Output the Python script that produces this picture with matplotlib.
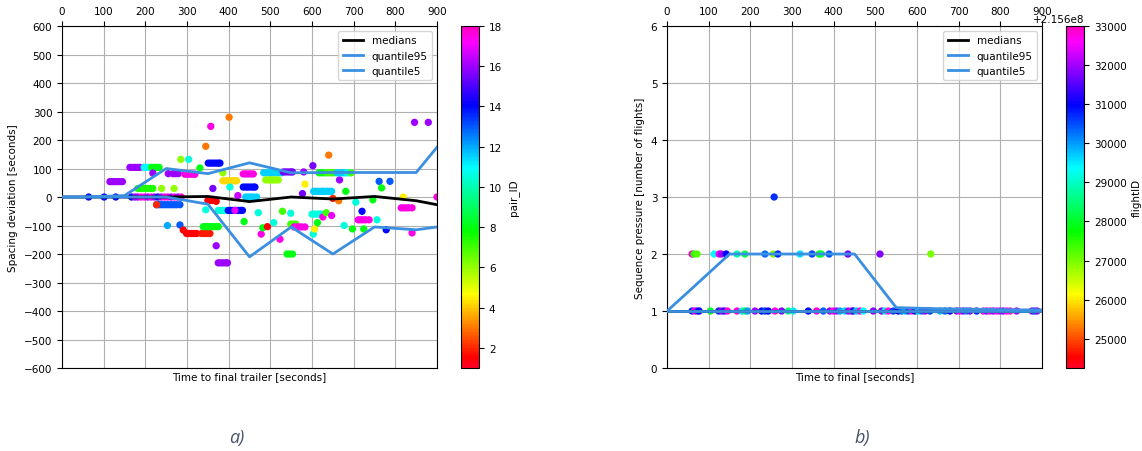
import numpy as np
import matplotlib.pyplot as plt

# ---- panel a) : spacing deviation vs time to final trailer ----
# line summaries
grid_t = [0, 50, 150, 250, 350, 450, 550, 650, 750, 850, 900]
a_medians = [0, 0, 0, 0, 2, -16, 0, -7, 2, -13, -27]
a_q95 = [0, 0, 5, 100, 82, 120, 85, 86, 86, 86, 175]
a_q5 = [0, 0, 0, 0, -25, -210, -105, -200, -105, -115, -105]

# scatter points (time, deviation, pair_ID)
a_x = [64, 101, 129, 167, 175, 182, 190, 198, 206, 214, 222, 230, 238, 246, 254, 262, 270, 278, 286,
       115, 121, 127, 133, 139, 145,
       163, 169, 175, 181, 187,
       197, 203, 209, 215, 221, 227, 233,
       182, 188, 194, 200, 206, 212, 218,
       239, 269, 218, 255, 267, 273, 279,
       295, 301, 307, 313, 319,
       285, 304, 331, 345, 357,
       351, 357, 363, 369, 375, 379,
       401, 435, 441, 447, 453, 459,
       386, 392, 398, 404, 410, 416, 419,
       386, 362, 403, 422,
       227, 233, 239, 245, 251, 257, 263, 269, 275, 283, 227,
       253, 283, 291, 299, 305, 311, 317, 323,
       335, 341, 347, 355,
       339, 345, 351, 357, 363, 369, 375,
       350, 356, 362, 370, 345, 370,
       375, 381, 387, 393, 397,
       375, 381, 387, 393,
       399, 405, 411, 417, 423, 429, 433, 415,
       437, 435, 441, 447, 453, 459, 463,
       441, 447, 453, 459, 467,
       471, 478, 482, 493,
       484, 490, 496, 502, 508, 514, 520, 527,
       489, 495, 501, 507, 513, 519,
       508, 531, 537, 543, 549, 553, 523, 529, 549,
       540, 546, 553, 549, 555, 561,
       557, 563, 569, 575, 583,
       577, 583, 580, 602,
       604, 610, 616, 622, 626,
       600, 606, 612, 618, 621, 603, 606, 613,
       617, 623, 629, 635, 641, 647, 651,
       626, 634, 640, 630, 636, 642, 647, 647, 650, 664, 666,
       660, 666, 672, 678, 684, 690, 694,
       681, 677, 697, 705, 720,
       711, 717, 723, 729, 737, 724, 746, 756, 761, 767, 778, 787,
       819, 814, 820, 826, 832, 840, 840, 846, 879, 900]
a_y = [0, 0, 0, 0, 0, 0, 0, 0, 0, 0, 0, 0, 0, 0, 0, 0, 0, 0, 0,
       54, 54, 54, 54, 54, 54,
       104, 104, 104, 104, 104,
       104, 104, 104, 104, 104, 104, 104,
       30, 30, 30, 30, 30, 30, 30,
       30, 30, 84, 82, 82, 82, 82,
       80, 80, 80, 80, 80,
       132, 132, 102, 178, 248,
       119, 119, 119, 119, 119, 119,
       280, 81, 81, 81, 81, 81,
       57, 57, 57, 57, 57, 57, 57,
       85, 30, 35, 5,
       -27, -27, -27, -27, -27, -27, -27, -27, -27, -27, -27,
       -100, -98, -116, -128, -128, -128, -128, -128,
       -128, -128, -128, -128,
       -104, -104, -104, -104, -104, -104, -104,
       -12, -12, -12, -15, -45, -171,
       -231, -231, -231, -231, -231,
       -47, -47, -47, -47,
       -47, -47, -47, -47, -47, -47, -47, -47,
       -86, 35, 35, 35, 35, 35, 35,
       0, 0, 0, 0, 0,
       -55, -130, -108, -104,
       85, 85, 85, 85, 85, 85, 85, 85,
       60, 60, 60, 60, 60, 60,
       -90, 88, 88, 88, 88, 88, -148, -50, -57,
       -200, -200, -200, -95, -95, -95,
       -105, -105, -105, -105, -105,
       12, 45, 88, 110,
       20, 20, 20, 20, 20,
       -60, -60, -60, -60, -60, -130, -112, -90,
       85, 85, 85, 85, 85, 85, 85,
       -70, -55, 147, 20, 20, 20, 20, -65, -5, -13, 60,
       85, 85, 85, 85, 85, 85, 85,
       20, -100, -112, -18, -50,
       -80, -80, -80, -80, -80, -112, -10, -80, 55, 32, -115, 55,
       0, -38, -38, -38, -38, -38, -126, 262, 262, 0]
a_id = [14, 14, 14, 14, 16, 16, 17.5, 17.5, 16, 17.5, 16, 14, 16, 17.5, 17.5, 16, 17.5, 16, 17.5,
        16, 16, 16, 16, 16, 16,
        16, 16, 16, 16, 16,
        11, 11, 11, 8, 8, 8, 8,
        7.5, 7.5, 7.5, 7.5, 7.5, 7.5, 7.5,
        6, 6, 16, 16, 16, 16, 16,
        17.5, 17.5, 17.5, 17.5, 17.5,
        6, 10.5, 8, 3, 17.5,
        14, 14, 14, 14, 14, 14,
        3, 17.5, 17.5, 17.5, 17.5, 17.5,
        4.2, 4.2, 4.2, 4.2, 4.2, 4.2, 4.2,
        6, 15.5, 10.5, 16.5,
        13, 13, 13, 13, 13, 13, 13, 13, 13, 13, 2,
        12, 13, 1.5, 1.5, 1.5, 1.5, 1.5, 1.5,
        1.8, 1.8, 1.8, 1.8,
        8, 8, 8, 8, 8, 8, 8,
        1.5, 1.5, 1.5, 1.5, 10.5, 16,
        16, 16, 16, 16, 16,
        10.5, 10.5, 10.5, 10.5,
        14, 14, 14, 14, 14, 14, 14, 17,
        8, 14, 14, 14, 14, 14, 14,
        11.5, 11.5, 11.5, 11.5, 11.5,
        10.5, 17.5, 8, 1.5,
        11.5, 11.5, 11.5, 11.5, 11.5, 11.5, 11.5, 11.5,
        6, 6, 6, 6, 6, 6,
        10.5, 15.5, 15.5, 15.5, 15.5, 15.5, 17.5, 7, 10.5,
        8, 8, 8, 7, 7, 7,
        17.5, 17.5, 17.5, 17.5, 17.5,
        15.5, 4.5, 16, 15.5,
        11.5, 11.5, 11.5, 11.5, 11.5,
        10.5, 10.5, 10.5, 10.5, 10.5, 10.5, 4.5, 8,
        8, 8, 8, 7, 7, 7, 7,
        17.5, 7, 3, 11.5, 11.5, 11.5, 11.5, 17, 2, 3, 16,
        11.5, 11.5, 11.5, 11.5, 10.5, 10.5, 7,
        8, 10.5, 8, 10.5, 14,
        17.5, 17.5, 17.5, 17.5, 17.5, 8, 8, 10.5, 13, 8, 14, 13,
        4.5, 17.5, 17.5, 17.5, 17.5, 17.5, 17.5, 16, 16, 17.5]

# ---- panel b) : sequence pressure vs time to final ----
b_medians = [1, 1, 1, 1, 1, 1, 1, 1, 1, 1, 1]
b_q95 = [1, 1.33, 2, 2, 2, 2, 1.06, 1.04, 1.03, 1.02, 1.02]
b_q5 = [1, 1, 1, 1, 1, 1, 1, 1, 1, 1, 1]

b_x = [60, 65, 72, 113, 125, 130, 142, 168, 187, 235, 255, 266, 319, 348, 365, 370, 389, 434, 511, 633,
       257,
       60, 66, 72, 77, 104, 124, 131, 138, 145, 168, 180, 187, 193, 211, 227, 235, 243, 259, 275,
       291, 303, 339, 359, 375, 391, 399, 407, 415, 427, 435, 443, 447, 455, 463, 471, 495, 515, 523,
       531, 543, 555, 563, 571, 579, 587, 595, 603, 611, 619, 631, 655, 667, 679, 695, 703, 711, 719,
       727, 743, 759, 767, 775, 783, 791, 799, 807, 815, 823, 839, 876, 882, 888]
b_y = [2, 2, 2, 2, 2, 2, 2, 2, 2, 2, 2, 2, 2, 2, 2, 2, 2, 2, 2, 2,
       3,
       1, 1, 1, 1, 1, 1, 1, 1, 1, 1, 1, 1, 1, 1, 1, 1, 1, 1, 1,
       1, 1, 1, 1, 1, 1, 1, 1, 1, 1, 1, 1, 1, 1, 1, 1, 1, 1, 1,
       1, 1, 1, 1, 1, 1, 1, 1, 1, 1, 1, 1, 1, 1, 1, 1, 1, 1, 1,
       1, 1, 1, 1, 1, 1, 1, 1, 1, 1, 1, 1, 1, 1, 1]
b_id = [32800, 27500, 27200, 29400, 32700, 32000, 31000, 28800, 28200, 30300, 27000, 30800, 29600, 30600,
        27800, 28200, 30500, 31700, 31800, 27000,
        30700,
        30800, 32800, 31800, 31000, 28000, 30800, 32000, 31200, 32800, 32800, 29500, 28200, 30000, 32000,
        31000, 30600, 31000, 32800, 31800, 28400, 29500, 31000, 32800, 30400, 31800, 32800, 32000, 30000,
        29600, 31900, 32800, 30800, 29700, 32800, 29400, 31800, 31800, 29500, 32800, 30600, 31000, 30300,
        29800, 30600, 32800, 31000, 29600, 30300, 31900, 30600, 29800, 30400, 31000, 31900, 32800, 31800,
        30200, 31800, 30800, 32800, 31800, 32800, 31900, 32800, 32000, 31800, 32800, 32800, 32000, 31800,
        30400, 31900]
flight_offset = 2.156e8

cap_color = '#44546a'
line_blue = '#3a8fe0'

fig = plt.figure(figsize=(11.42, 4.52), dpi=100)
plt.rcParams['font.size'] = 7.5

ax1 = fig.add_axes([0.0543, 0.1836, 0.3284, 0.7566])
cax1 = fig.add_axes([0.4037, 0.1836, 0.0158, 0.7566])
ax2 = fig.add_axes([0.5841, 0.1836, 0.3284, 0.7566])
cax2 = fig.add_axes([0.9335, 0.1836, 0.0158, 0.7566])

sc1 = ax1.scatter(a_x, a_y, c=a_id, cmap='gist_rainbow', vmin=1, vmax=18, s=18, zorder=2)
ax1.plot(grid_t, a_medians, color='black', lw=2, label='medians', zorder=3)
ax1.plot(grid_t, a_q95, color=line_blue, lw=2, label='quantile95', zorder=3)
ax1.plot(grid_t, a_q5, color=line_blue, lw=2, label='quantile5', zorder=3)
ax1.set_xlim(0, 900)
ax1.set_ylim(-600, 600)
ax1.set_xticks(np.arange(0, 901, 100))
ax1.set_yticks(np.arange(-600, 601, 100))
ax1.xaxis.tick_top()
ax1.grid(True)
ax1.set_xlabel('Time to final trailer [seconds]', labelpad=2)
ax1.set_ylabel('Spacing deviation [seconds]')
ax1.legend(loc='upper right')
cb1 = fig.colorbar(sc1, cax=cax1)
cb1.set_ticks(np.arange(2, 19, 2))
cb1.set_label('pair_ID')

b_c = [flight_offset + v for v in b_id]
sc2 = ax2.scatter(b_x, b_y, c=b_c, cmap='gist_rainbow', vmin=flight_offset + 24250,
                  vmax=flight_offset + 33000, s=18, zorder=2)
ax2.plot(grid_t, b_medians, color='black', lw=2, label='medians', zorder=3)
ax2.plot(grid_t, b_q95, color=line_blue, lw=2, label='quantile95', zorder=3)
ax2.plot(grid_t, b_q5, color=line_blue, lw=2, label='quantile5', zorder=3)
ax2.set_xlim(0, 900)
ax2.set_ylim(0, 6)
ax2.set_xticks(np.arange(0, 901, 100))
ax2.xaxis.tick_top()
ax2.grid(True)
ax2.set_xlabel('Time to final [seconds]', labelpad=2)
ax2.set_ylabel('Sequence pressure [number of flights]')
ax2.legend(loc='upper right')
cb2 = fig.colorbar(sc2, cax=cax2)
cb2.set_ticks([flight_offset + v for v in range(25000, 33001, 1000)])
cb2.set_label('flightID')

fig.text(0.2075, 0.03, 'a)', color=cap_color, fontsize=13, style='italic',
         family='Open Sans', ha='center', va='center')
fig.text(0.755, 0.03, 'b)', color=cap_color, fontsize=13, style='italic',
         family='Open Sans', ha='center', va='center')

fig.savefig('out.png', dpi=100)
